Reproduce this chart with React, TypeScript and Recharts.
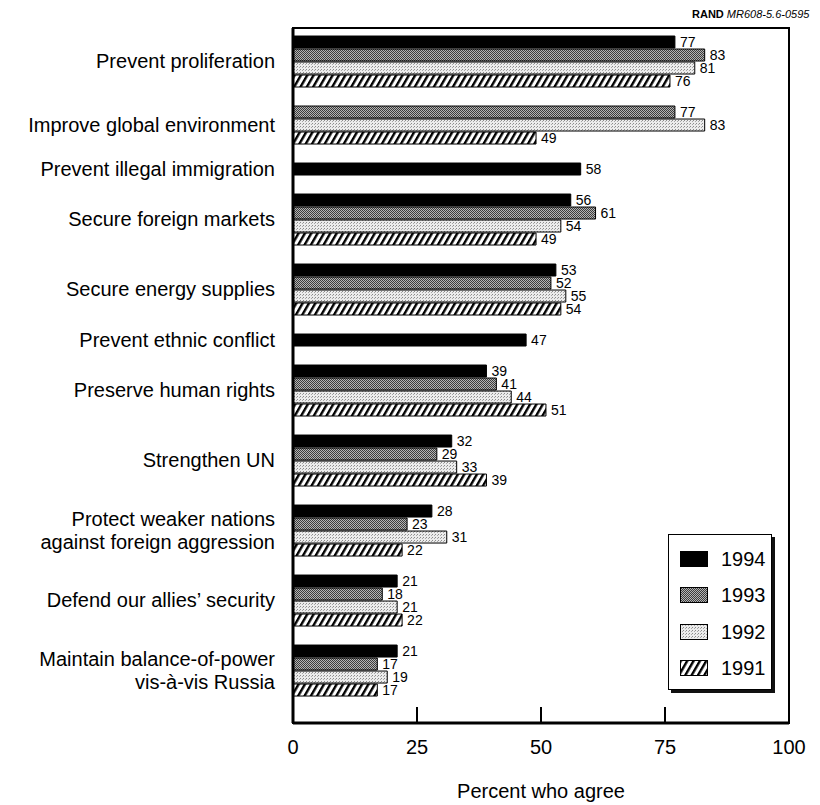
import React from 'react';
import { BarChart, Bar, XAxis, YAxis, Cell, LabelList, Legend, ReferenceArea } from 'recharts';

const categories = [
  'Prevent proliferation',
  'Improve global environment',
  'Prevent illegal immigration',
  'Secure foreign markets',
  'Secure energy supplies',
  'Prevent ethnic conflict',
  'Preserve human rights',
  'Strengthen UN',
  'Protect weaker nations\nagainst foreign aggression',
  'Defend our allies\u2019 security',
  'Maintain balance-of-power\nvis-\u00e0-vis Russia',
];

const years = ['1994', '1993', '1992', '1991'];

const values1994 = [77, null, 58, 56, 53, 47, 39, 32, 28, 21, 21];
const values1993 = [83, 77, null, 61, 52, null, 41, 29, 23, 18, 17];
const values1992 = [81, 83, null, 54, 55, null, 44, 33, 31, 21, 19];
const values1991 = [76, 49, null, 49, 54, null, 51, 39, 22, 22, 17];

const xTicks = [0, 25, 50, 75, 100];

const seriesValues = [values1994, values1993, values1992, values1991];
const fills: Record<string, string> = {
  '1994': '#000000',
  '1993': 'url(#pat1993)',
  '1992': 'url(#pat1992)',
  '1991': 'url(#pat1991)',
};

// layout: one slot per bar, extra gap between groups (in slot units)
const GROUP_GAP = 18 / 13;
const rows: { pos: number; value: number; year: string }[] = [];
const groupCenters: number[] = [];
let slot = 0;
categories.forEach((_, gi) => {
  const start = slot + gi * GROUP_GAP;
  let n = 0;
  seriesValues.forEach((arr, yi) => {
    const v = arr[gi];
    if (v != null) {
      rows.push({ pos: slot + gi * GROUP_GAP + 0.5, value: v, year: years[yi] });
      slot++;
      n++;
    }
  });
  groupCenters.push(start + n / 2);
});

const Y_DOMAIN: [number, number] = [-0.54, 52.92];
const FONT = '"Liberation Sans", Arial, Helvetica, sans-serif';

const CategoryTick = (props: any) => {
  const { x, y, payload } = props;
  const idx = groupCenters.findIndex((c) => Math.abs(c - payload.value) < 1e-6);
  if (idx < 0) return null;
  const lines = categories[idx].split('\n');
  const lh = 23;
  const y0 = y - ((lines.length - 1) * lh) / 2 + 7;
  return (
    <text x={x} y={y0} textAnchor="end" fontSize={20} fill="#000" fontFamily={FONT}>
      {lines.map((l, i) => (
        <tspan key={i} x={x} dy={i === 0 ? 0 : lh}>
          {l}
        </tspan>
      ))}
    </text>
  );
};

const ValueTick = (props: any) => {
  const { x, y, payload } = props;
  return (
    <g>
      <line x1={x} y1={y} x2={x} y2={y - 16} stroke="#000" strokeWidth={2} />
      <text x={x} y={y + 31} textAnchor="middle" fontSize={20} fill="#000" fontFamily={FONT}>
        {payload.value}
      </text>
    </g>
  );
};

const LegendBox = () => (
  <div
    style={{
      width: 104,
      height: 156,
      boxSizing: 'border-box',
      border: '1.5px solid #000',
      boxShadow: '3px 3px 0 #111',
      background: '#fff',
      position: 'relative',
      fontFamily: FONT,
    }}
  >
    {years.map((yr, i) => (
      <div
        key={yr}
        style={{ position: 'absolute', left: 11, top: 24 + i * 36.3 - 8, height: 16, display: 'flex', alignItems: 'center' }}
      >
        <svg width={28} height={16} style={{ display: 'block' }}>
          <rect x={0.5} y={0.5} width={27} height={15} fill={fills[yr]} stroke="#000" strokeWidth={1} />
        </svg>
        <span style={{ marginLeft: 13, fontSize: 20, color: '#000', lineHeight: '16px' }}>{yr}</span>
      </div>
    ))}
  </div>
);

export default function App() {
  return (
    <div style={{ position: 'absolute', left: 0, top: 0, width: 820, height: 805, background: '#fff', fontFamily: FONT }}>
      <svg width={0} height={0} style={{ position: 'absolute' }}>
        <defs>
          <pattern id="pat1993" width={2} height={2} patternUnits="userSpaceOnUse">
            <rect x={0} y={0} width={2} height={2} fill="#b4b4b4" />
            <rect x={0} y={0} width={1} height={1} fill="#3c3c3c" />
            <rect x={1} y={1} width={1} height={1} fill="#3c3c3c" />
          </pattern>
          <pattern id="pat1992" width={3} height={3} patternUnits="userSpaceOnUse">
            <rect x={0} y={0} width={3} height={3} fill="#ececec" />
            <rect x={0} y={0} width={1} height={1} fill="#8a8a8a" />
            <rect x={2} y={1} width={1} height={1} fill="#a8a8a8" />
          </pattern>
          <pattern id="pat1991" width={5.5} height={6} patternUnits="userSpaceOnUse" patternTransform="rotate(30)">
            <rect x={0} y={0} width={5.5} height={6} fill="#fff" />
            <rect x={0} y={0} width={2.4} height={6} fill="#000" />
          </pattern>
        </defs>
      </svg>
      <div
        style={{
          position: 'absolute',
          left: 692,
          top: 8,
          fontSize: 11,
          whiteSpace: 'nowrap',
          color: '#000',
          fontFamily: FONT,
        }}
      >
        <b>RAND</b> <i>MR608-5.6-0595</i>
      </div>
      <BarChart
        width={820}
        height={805}
        data={rows}
        layout="vertical"
        margin={{ top: 28, right: 31, left: 0, bottom: 0 }}
      >
        <XAxis
          type="number"
          domain={[0, 100]}
          ticks={xTicks}
          allowDataOverflow
          height={82}
          axisLine={{ stroke: '#000', strokeWidth: 3 }}
          tickLine={false}
          tickSize={0}
          tickMargin={0}
          tick={<ValueTick />}
          interval={0}
          label={{ value: 'Percent who agree', position: 'insideBottom', offset: 7, fill: '#000', fontSize: 20, fontFamily: FONT }}
        />
        <YAxis
          type="number"
          dataKey="pos"
          domain={Y_DOMAIN}
          allowDataOverflow
          ticks={groupCenters}
          interval={0}
          width={293}
          axisLine={{ stroke: '#000', strokeWidth: 3 }}
          tickLine={false}
          tickSize={0}
          tickMargin={18}
          tick={<CategoryTick />}
        />
        <ReferenceArea
          x1={0}
          x2={100}
          y1={Y_DOMAIN[0]}
          y2={Y_DOMAIN[1]}
          fill="none"
          fillOpacity={0}
          stroke="#000"
          strokeWidth={2}
        />
        <Legend
          layout="vertical"
          align="center"
          verticalAlign="middle"
          content={() => <LegendBox />}
          wrapperStyle={{ position: 'absolute', left: 668, top: 534, width: 104, height: 156 }}
        />
        <Bar dataKey="value" barSize={12} stroke="#000" strokeWidth={1} isAnimationActive={false}>
          {rows.map((r, i) => (
            <Cell key={i} fill={fills[r.year]} />
          ))}
          <LabelList dataKey="value" position="right" offset={5} fill="#000" fontSize={14} fontFamily={FONT} />
        </Bar>
      </BarChart>
    </div>
  );
}
